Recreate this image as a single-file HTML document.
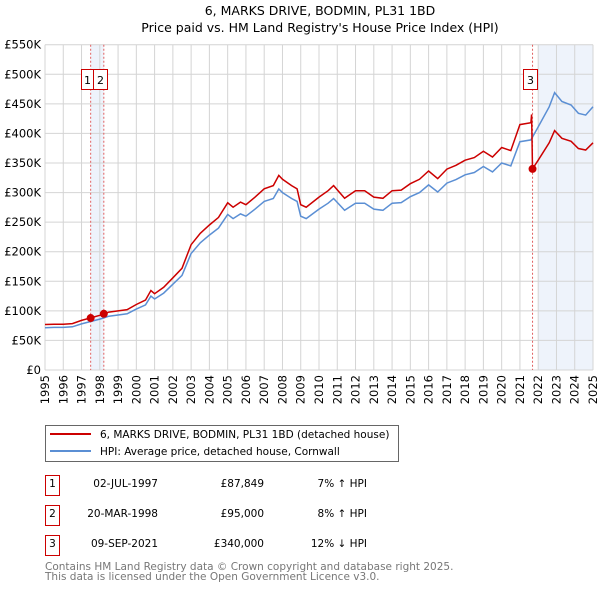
<!DOCTYPE html>
<html><head><meta charset="utf-8"><style>
body{margin:0;background:#fff;font-family:"DejaVu Sans","Liberation Sans",sans-serif;}
svg text{font-family:"DejaVu Sans","Liberation Sans",sans-serif;}
</style></head><body>
<svg width="600" height="590" xmlns="http://www.w3.org/2000/svg">
<text x="320" y="15" text-anchor="middle" font-size="12.5">6, MARKS DRIVE, BODMIN, PL31 1BD</text>
<text x="320" y="32" text-anchor="middle" font-size="12.5">Price paid vs. HM Land Registry's House Price Index (HPI)</text>
<g id="plot"></g>
<rect x="45.5" y="425.5" width="353" height="36" fill="none" stroke="#666"/>
<line x1="50" y1="434" x2="91" y2="434" stroke="#cc0000" stroke-width="2"/>
<text x="100" y="438" font-size="10.5">6, MARKS DRIVE, BODMIN, PL31 1BD (detached house)</text>
<line x1="50" y1="451" x2="91" y2="451" stroke="#5b8fd4" stroke-width="2"/>
<text x="100" y="455" font-size="10.5">HPI: Average price, detached house, Cornwall</text>
<g font-size="10.5">
<rect x="45.5" y="475.5" width="14" height="20" fill="none" stroke="#cc0000"/><text x="52.5" y="487" text-anchor="middle">1</text>
<text x="158" y="487" text-anchor="end">02-JUL-1997</text><text x="264" y="487" text-anchor="end">£87,849</text><text x="367" y="487" text-anchor="end">7% ↑ HPI</text>
<rect x="45.5" y="505.5" width="14" height="20" fill="none" stroke="#cc0000"/><text x="52.5" y="517" text-anchor="middle">2</text>
<text x="158" y="517" text-anchor="end">20-MAR-1998</text><text x="264" y="517" text-anchor="end">£95,000</text><text x="367" y="517" text-anchor="end">8% ↑ HPI</text>
<rect x="45.5" y="535.5" width="14" height="20" fill="none" stroke="#cc0000"/><text x="52.5" y="547" text-anchor="middle">3</text>
<text x="158" y="547" text-anchor="end">09-SEP-2021</text><text x="264" y="547" text-anchor="end">£340,000</text><text x="367" y="547" text-anchor="end">12% ↓ HPI</text>
</g>
<text x="45" y="570" font-size="10.5" fill="#777">Contains HM Land Registry data © Crown copyright and database right 2025.</text>
<text x="45" y="580" font-size="10.5" fill="#777">This data is licensed under the Open Government Licence v3.0.</text>
</svg>
<script>
const hpiYears=[1995,1995.5,1996,1996.5,1997,1997.5,1998,1998.2,1998.5,1999,1999.5,2000,2000.5,2000.8,2001,2001.5,2002,2002.5,2003,2003.5,2004,2004.5,2005,2005.3,2005.7,2006,2006.5,2007,2007.5,2007.8,2008,2008.5,2008.8,2009,2009.3,2010,2010.5,2010.8,2011.4,2012,2012.5,2013,2013.5,2014,2014.5,2015,2015.5,2016,2016.5,2017,2017.5,2018,2018.5,2019,2019.5,2020,2020.5,2021,2021.6,2022,2022.6,2022.9,2023.3,2023.8,2024.2,2024.6,2025];
const hpiValues=[71.5,72,72,73,78,82,86,88,91,93,95,103,110,125,120,130,145,160,197,215,228,240,263,256,264,260,272,285,290,306,300,290,285,260,256,272,282,290,270,282,282,272,270,282,283,293,300,313,301,316,322,330,334,344,335,350,345,386,389,411,445,469,454,448,434,431,445];
const saleYears=[1997.5,1998.22,2021.69];
const saleValues=[87.849,95,340];
const yTicks=[0,50,100,150,200,250,300,350,400,450,500,550];
const yTickLabels=["£0","£50K","£100K","£150K","£200K","£250K","£300K","£350K","£400K","£450K","£500K","£550K"];
const xTicks=[1995,1996,1997,1998,1999,2000,2001,2002,2003,2004,2005,2006,2007,2008,2009,2010,2011,2012,2013,2014,2015,2016,2017,2018,2019,2020,2021,2022,2023,2024,2025];
const preRatio=1.075;
const NS="http://www.w3.org/2000/svg";
const X0=45,X1=593,Y0=370,Y1=44.7;
const xs=y=>X0+(y-1995)/30*(X1-X0);
const ys=v=>Y0-v/550*(Y0-Y1);
const g=document.getElementById('plot');
function mk(t,a,p){const e=document.createElementNS(NS,t);for(const k in a)e.setAttribute(k,a[k]);(p||g).appendChild(e);return e;}
let s=mk('rect',{x:xs(saleYears[0]),y:Y1,width:xs(saleYears[1])-xs(saleYears[0]),height:Y0-Y1,fill:'#eef3fb'});


s=mk('rect',{x:xs(2022),y:Y1,width:X1-xs(2022),height:Y0-Y1,fill:'#eef3fb'});


xTicks.forEach(t=>{const l=mk('line',{x1:xs(t),x2:xs(t),y1:Y1,y2:Y0,stroke:'#d4d4d4'});


const tx=mk('text',{x:0,y:0,'font-size':11.5,'text-anchor':'end',transform:`translate(${xs(t)+4},${Y0+5}) rotate(-90)`});tx.textContent=t;

});
yTicks.forEach((t,i)=>{const l=mk('line',{x1:X0,x2:X1,y1:ys(t),y2:ys(t),stroke:'#d4d4d4'});


const tx=mk('text',{x:41,y:ys(t)+4,'font-size':11.5,'text-anchor':'end'});tx.textContent=yTickLabels[i];

});
saleYears.forEach(y=>{const l=mk('line',{x1:xs(y),x2:xs(y),y1:Y1,y2:Y0,stroke:'#e06060','stroke-dasharray':'2,2'});

});
function interp(y){for(let i=1;i<hpiYears.length;i++){if(y<=hpiYears[i]){const f=(y-hpiYears[i-1])/(hpiYears[i]-hpiYears[i-1]);return hpiValues[i-1]+f*(hpiValues[i]-hpiValues[i-1]);}}return hpiValues[hpiValues.length-1];}
const postRatio=saleValues[2]/interp(saleYears[2]);
let bp=hpiYears.map((y,i)=>`${xs(y).toFixed(1)},${ys(hpiValues[i]).toFixed(1)}`).join(' ');
let b=mk('polyline',{points:bp,fill:'none',stroke:'#5b8fd4','stroke-width':1.5});


let rp=[];hpiYears.forEach((y,i)=>{if(y<saleYears[2])rp.push([y,hpiValues[i]*preRatio]);});
const h3=interp(saleYears[2]);rp.push([saleYears[2]-0.05,h3*preRatio*1.02]);rp.push([saleYears[2],saleValues[2]]);
hpiYears.forEach((y,i)=>{if(y>saleYears[2])rp.push([y,hpiValues[i]*postRatio]);});
let r=mk('polyline',{points:rp.map(p=>`${xs(p[0]).toFixed(1)},${ys(p[1]).toFixed(1)}`).join(' '),fill:'none',stroke:'#cc0000','stroke-width':1.5});


saleYears.forEach((y,i)=>{const c=mk('circle',{cx:xs(y),cy:ys(saleValues[i]),r:4,fill:'#cc0000'});

});
const boxes=[[xs(saleYears[0])-10,12,'1'],[xs(saleYears[0])+2,14,'2'],[xs(saleYears[2])-10,14,'3']];
boxes.forEach(bx=>{
const rr=mk('rect',{x:Math.round(bx[0])+0.5,y:69.5,width:bx[1],height:20,fill:'#fff',stroke:'#cc0000'});


const t=mk('text',{x:Math.round(bx[0])+0.5+bx[1]/2,y:84,'font-size':11,'text-anchor':'middle'});t.textContent=bx[2];

});
</script>
</body></html>
